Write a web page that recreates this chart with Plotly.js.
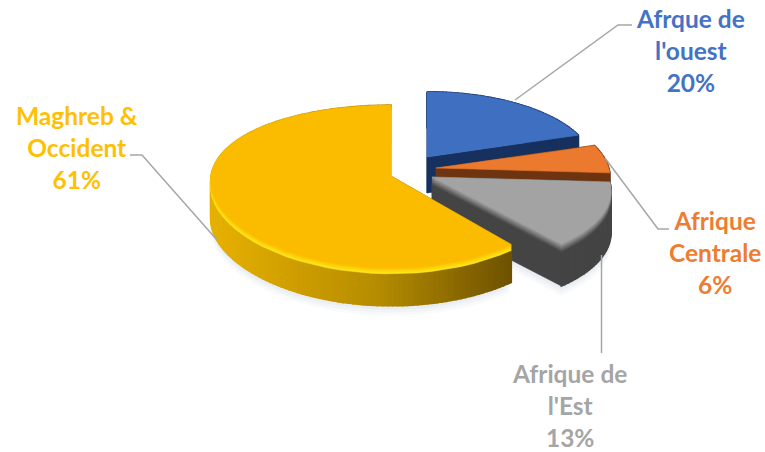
<!DOCTYPE html>
<html><head><meta charset="utf-8">
<script src="https://cdn.plot.ly/plotly-3.0.1.min.js"></script>
<style>html,body{margin:0;padding:0;background:#fff}#c{width:765px;height:452px}</style></head>
<body><div id="c"></div>
<script>
// data
var regions = ["Afrique de l'ouest", "Afrique Centrale", "Afrique de l'Est", "Maghreb & Occident"];
var shares = [20, 6, 13, 61];
var labelLines = ["Afrque de<br>l'ouest<br>20%", "Afrique<br>Centrale<br>6%", "Afrique de<br>l'Est<br>13%", "Maghreb &<br>Occident<br>61%"];
// style
var topColors = ["#3F6FC0", "#EB7A2E", "#A3A3A3", "#FBBC00"];
var labelColors = ["#4472C4", "#ED7D31", "#A5A5A5", "#FFC000"];
var apexX = [427, 436, 432, 391], apexY = [157, 168, 177, 176], radiusScale = [0.92, 0.96, 0.98, 1];
var perspX = [0.1287, 0.1287, 0.17, 0.06];
var depths = [36, 36, 42, 38];
var R = 180, F = 80, P = 0.1287;

function proj(i, deg, r) {
  var t = deg * Math.PI / 180, dx = Math.sin(t) * r, dy = Math.cos(t) * r;
  return [apexX[i] + R * radiusScale[i] * dx / (1 + perspX[i] * dy),
          apexY[i] - F * radiusScale[i] * dy / (1 + P * dy)];
}
function mix(a, b, f) {
  var pa = [1,3,5].map(function(k){return parseInt(a.substr(k,2),16)});
  var pb = [1,3,5].map(function(k){return parseInt(b.substr(k,2),16)});
  return 'rgb(' + pa.map(function(v,j){return Math.round(v+(pb[j]-v)*f)}).join(',') + ')';
}
var traces = [];
function poly(xs, ys, color, opacity, lw) {
  traces.push({type:'scatter', mode:'lines', x:xs.concat([xs[0]]), y:ys.concat([ys[0]]), fill:'toself',
    fillcolor:color, line:{color:color, width:lw==null?0.6:lw}, opacity:opacity==null?1:opacity, hoverinfo:'skip', showlegend:false});
}
function outline(i, a0, a1, off) {
  var xs=[apexX[i]], ys=[apexY[i]+off];
  for (var k=0;k<=48;k++){var p=proj(i,a0+(a1-a0)*k/48,1); xs.push(p[0]); ys.push(p[1]+off);}
  return [xs,ys];
}
var start = 0, spans = [];
shares.forEach(function(v){ spans.push([start, start+v*3.6]); start += v*3.6; });

// soft shadow
[[10,0.05],[7,0.06],[4,0.07]].forEach(function(s){
  [3,2].forEach(function(i){
    var o = outline(i, spans[i][0], spans[i][1], depths[i]+s[0]);
    poly(o[0], o[1], '#8f9bb3', s[1], 0);
  });
});

var sideColor = [
  function(){return "#16305F"},
  function(){return "#6E3410"},
  function(){return "#444444"},
  function(x){ // golden side darkens toward the right
    var f = Math.max(0, Math.min(1, (x-215)/295));
    return f<0.55 ? mix("#E6B000","#B58C00",f/0.55) : mix("#B58C00","#6E5200",(f-0.55)/0.45);
  }
];
var bevelLow = ["#2C5699", "#B9581C", "#4A4A4A", "#FFE81A"];

regions.forEach(function(name,i){
  var a0=spans[i][0], a1=spans[i][1], DEPTH=depths[i];
  [a0,a1].forEach(function(a){
    var p=proj(i,a,1);
    poly([apexX[i],p[0],p[0],apexX[i]],[apexY[i],p[1],p[1]+DEPTH,apexY[i]+DEPTH], sideColor[i](p[0]));
  });
  // rim, in small segments so that the colour can follow the arc
  var n=Math.round((a1-a0)/1.5);
  for (var k=0;k<n;k++){
    var p=proj(i,a0+(a1-a0)*k/n,1), q=proj(i,a0+(a1-a0)*(k+1)/n,1);
    poly([p[0],q[0],q[0],p[0]],[p[1],q[1],q[1]+DEPTH,p[1]+DEPTH], sideColor[i]((p[0]+q[0])/2), 1, 1.6);
  }
  // bevel then top
  var steps=6, bw = i==3?6:(i==2?8:0);
  if (bw) for (var s=steps;s>=1;s--){
    var off=bw*s/steps, o=outline(i,a0,a1,off);
    poly(o[0],o[1], mix(bevelLow[i],topColors[i],(steps-s)/steps));
  }
  var t=outline(i,a0,a1,0);
  poly(t[0],t[1],topColors[i]);
});

var leaderX = [515,618,632,null,605,658,669,null,601.5,601.5,null,130,142,217];
var leaderY = [100,25,25,null,158,229,229,null,255,353,null,155,155,240];
traces.push({type:'scatter',mode:'lines',x:leaderX,y:leaderY,line:{color:'#A6A6A6',width:1.5},hoverinfo:'skip',showlegend:false});

var labelPos = [[690,50],[715,252],[569,405],[77,147]];
var layout = {
  width:765,height:452,margin:{l:0,r:0,t:0,b:0},paper_bgcolor:'#fff',plot_bgcolor:'#fff',showlegend:false,
  xaxis:{range:[0,765],visible:false,fixedrange:true},
  yaxis:{range:[452,0],visible:false,fixedrange:true},
  annotations:labelLines.map(function(t,i){return {
    x:labelPos[i][0],y:labelPos[i][1],xref:'x',yref:'y',text:'<b>'+t+'</b>',showarrow:false,align:'center',
    font:{family:'Lato, Carlito, sans-serif',size:24.5,color:labelColors[i]}};})
};
Plotly.newPlot('c',traces,layout,{displayModeBar:false,staticPlot:true});
</script></body></html>
